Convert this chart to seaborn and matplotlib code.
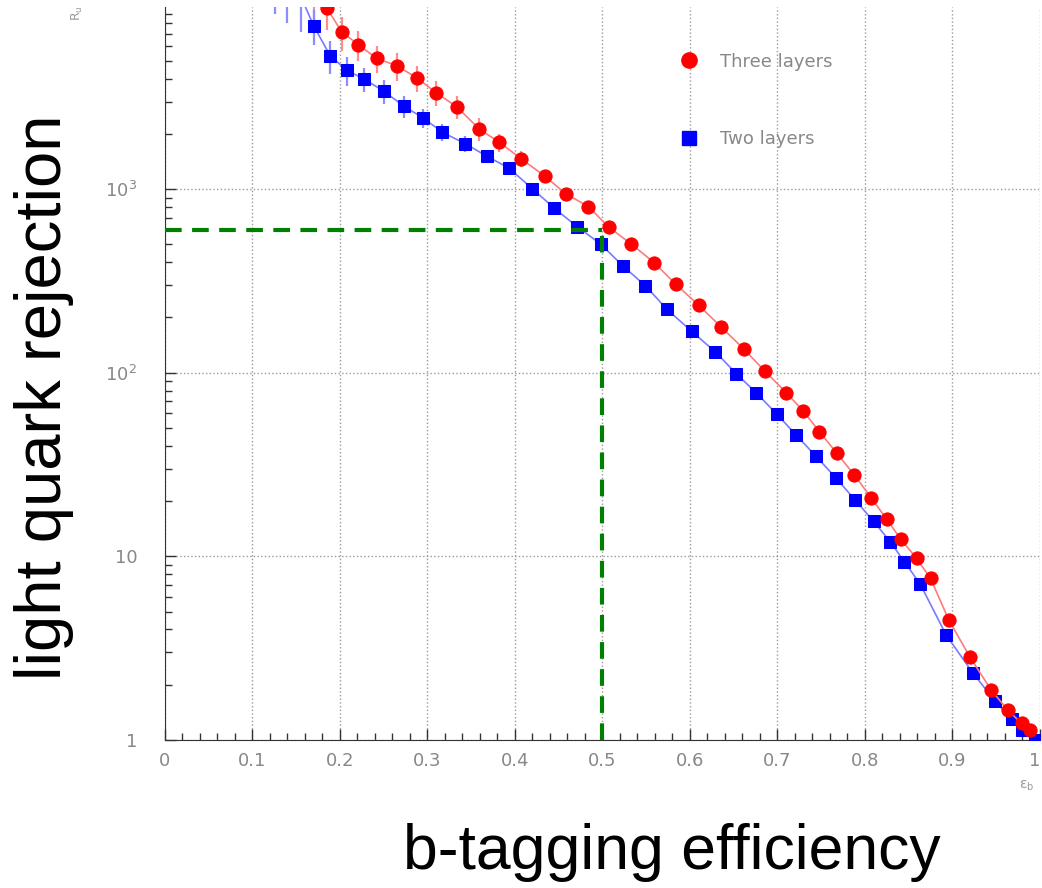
import matplotlib
matplotlib.use('Agg')
import matplotlib.pyplot as plt
import matplotlib.ticker as mticker
from matplotlib.lines import Line2D
import seaborn as sns
import pandas as pd

# b-tagging efficiency vs light quark rejection
eff_three = [0.170, 0.185, 0.202, 0.221, 0.242, 0.265, 0.288, 0.310, 0.334, 0.359,
             0.382, 0.407, 0.434, 0.458, 0.484, 0.507, 0.533, 0.559, 0.584, 0.610,
             0.636, 0.662, 0.686, 0.710, 0.729, 0.748, 0.768, 0.788, 0.807, 0.825,
             0.841, 0.859, 0.875, 0.896, 0.920, 0.944, 0.963, 0.979, 0.989]
rej_three = [13000, 9700, 7180, 6120, 5150, 4700, 4030, 3350, 2795, 2128,
             1800, 1465, 1178, 943, 804, 622, 502, 398, 303, 233,
             177, 134, 101.6, 78, 62.2, 47.8, 36.4, 27.7, 20.9, 15.9,
             12.4, 9.75, 7.58, 4.49, 2.83, 1.88, 1.46, 1.23, 1.13]
err_three = [5500, 2300, 1500, 1150, 870, 800, 650, 530, 400, 300,
             200, 150, 100, 70, 50, 30, 20, 14, 10, 7,
             5, 4, 3, 2, 1.5, 1.2, 1.0, 0.8, 0.6, 0.5,
             0.4, 0.3, 0.3, 0.2, 0.1, 0.08, 0.05, 0.04, 0.03]

eff_two = [0.126, 0.139, 0.156, 0.170, 0.189, 0.208, 0.227, 0.250, 0.273, 0.295,
           0.317, 0.343, 0.368, 0.393, 0.420, 0.445, 0.471, 0.498, 0.523, 0.549,
           0.574, 0.602, 0.629, 0.653, 0.676, 0.699, 0.721, 0.744, 0.767, 0.789,
           0.810, 0.829, 0.845, 0.863, 0.893, 0.923, 0.949, 0.968, 0.980, 0.994]
rej_two = [15000, 13500, 11000, 7745, 5310, 4430, 3990, 3420, 2830, 2443,
           2040, 1770, 1510, 1303, 1004, 787, 625, 502, 383, 298,
           221, 168, 130, 98.8, 77.5, 59.7, 46, 35.1, 26.7, 20.2,
           15.5, 12.0, 9.35, 7.09, 3.72, 2.33, 1.62, 1.30, 1.13, 1.0]
err_two = [6000, 5500, 3800, 1650, 1070, 780, 600, 500, 380, 300,
           220, 170, 130, 100, 60, 45, 25, 18, 12, 9,
           6, 5, 4, 3, 2, 1.6, 1.2, 1.0, 0.8, 0.6,
           0.5, 0.4, 0.3, 0.25, 0.12, 0.08, 0.05, 0.04, 0.03, 0.02]

# working point
wp_eff = 0.5
wp_rej = 600

df3 = pd.DataFrame({'eff': eff_three, 'rej': rej_three})
df2 = pd.DataFrame({'eff': eff_two, 'rej': rej_two})

sns.set_style('ticks')
plt.rcParams['font.family'] = ['DejaVu Sans']
plt.rcParams['mathtext.default'] = 'regular'

fig = plt.figure(figsize=(10.42, 8.88), dpi=100)
ax = fig.add_axes([0.1583, 0.1667, 0.8397, 0.8253])

# error bars first, so markers sit on top
ax.errorbar(eff_three, rej_three, yerr=err_three, fmt='none', ecolor='#ff8c8c', elinewidth=1.6, capsize=0, zorder=2)
ax.errorbar(eff_two, rej_two, yerr=err_two, fmt='none', ecolor='#8c8cff', elinewidth=1.6, capsize=0, zorder=2)

sns.lineplot(data=df3, x='eff', y='rej', ax=ax, color='#ff7a7a', lw=1.2, marker='o',
             markersize=9.5, markerfacecolor='#ff0000', markeredgecolor='#ff0000', zorder=4,
             sort=False, legend=False)
sns.lineplot(data=df2, x='eff', y='rej', ax=ax, color='#7a7aff', lw=1.2, marker='s',
             markersize=9, markerfacecolor='#0000ff', markeredgecolor='#0000ff', zorder=3,
             sort=False, legend=False)

# working point guide lines
ax.plot([0, wp_eff], [wp_rej, wp_rej], color='#008000', lw=3, ls=(0, (4, 2.5)), zorder=5)
ax.plot([wp_eff, wp_eff], [1, wp_rej], color='#008000', lw=3, ls=(0, (4, 2.5)), zorder=5)

ax.set_yscale('log')
ax.set_xlim(0, 1)
ax.set_ylim(1, 9800)
ax.set_xlabel('')
ax.set_ylabel('')

ax.xaxis.set_minor_locator(mticker.MultipleLocator(0.02))
ax.set_xticks([0, 0.1, 0.2, 0.3, 0.4, 0.5, 0.6, 0.7, 0.8, 0.9, 1.0])
ax.set_xticklabels(['0', '0.1', '0.2', '0.3', '0.4', '0.5', '0.6', '0.7', '0.8', '0.9', '1'])
ax.set_yticks([1, 10, 100, 1000])
ax.set_yticklabels(['1', '10', r'$10^{2}$', r'$10^{3}$'])
ax.yaxis.set_minor_locator(mticker.LogLocator(base=10, subs=range(2, 10)))
ax.yaxis.set_minor_formatter(mticker.NullFormatter())

ax.tick_params(axis='both', which='major', direction='in', length=8, width=1, colors='#333333',
               labelcolor='#888888', labelsize=13)
ax.tick_params(axis='both', which='minor', direction='in', length=5, width=1, colors='#333333')
ax.tick_params(axis='x', pad=9)
ax.tick_params(axis='y', pad=20)
ax.get_xticklabels()[-1].set_horizontalalignment('right')

ax.grid(True, which='major', linestyle=':', color='#9a9a9a', lw=1)
sns.despine(ax=ax, top=True, right=True)
ax.spines['left'].set_color('#333333')
ax.spines['bottom'].set_color('#333333')

# legend: markers only
handles = [Line2D([], [], ls='none', marker='o', markersize=11, color='#ff0000'),
           Line2D([], [], ls='none', marker='s', markersize=10, color='#0000ff')]
ax.legend(handles, ['Three layers', 'Two layers'], loc='upper left', bbox_to_anchor=(0.57, 0.96),
          frameon=False, fontsize=13, labelcolor='#888888', labelspacing=3.3, handletextpad=1.2,
          handlelength=1.0)

# small axis names
fig.text(0.993, 0.115, r'$\varepsilon_b$', color='#999999', fontsize=10, ha='right', va='center')
fig.text(0.074, 0.985, r'$R_u$', color='#999999', fontsize=9, ha='center', va='center', rotation=90)

# big axis titles
fig.text(0.645, 0.04, 'b-tagging efficiency', family=['Liberation Sans', 'DejaVu Sans'],
         fontsize=45, ha='center', va='center', color='black')
fig.text(0.042, 0.553, 'light quark rejection', family=['Liberation Sans', 'DejaVu Sans'],
         fontsize=47, ha='center', va='center', rotation=90, color='black')

plt.savefig('out.png', dpi=100)
plt.close()
